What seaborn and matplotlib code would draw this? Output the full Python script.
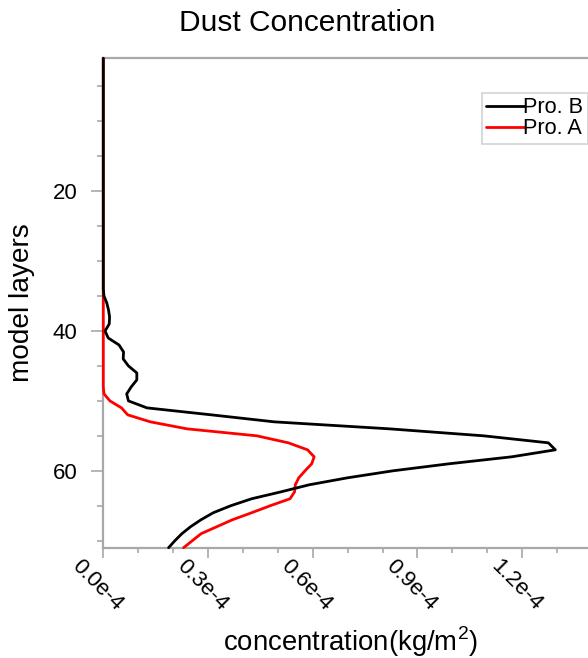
import numpy as np
import pandas as pd
import matplotlib
matplotlib.use("Agg")
import matplotlib.pyplot as plt
import matplotlib.transforms as mtransforms
from matplotlib.ticker import MultipleLocator, FixedLocator, FixedFormatter
from matplotlib.lines import Line2D
import seaborn as sns

# ---- data (concentration in units of 1e-5 kg/m^2) ----
layers_b = [1, 34, 35, 36, 37, 38, 39, 40, 41, 42, 43, 44, 45, 46, 47, 48, 49, 50,
            51, 52, 53, 54, 55, 56, 57, 58, 59, 60, 61, 62, 63, 64, 65, 66, 67, 68,
            69, 70, 71]
pro_b = [0, 0, 0.02, 0.10, 0.15, 0.18, 0.17, 0.05, 0.14, 0.45, 0.58, 0.57, 0.72,
         0.96, 0.96, 0.80, 0.67, 0.72, 1.25, 3.1, 4.9, 8.2, 10.9, 12.75, 12.95,
         11.7, 9.9, 8.3, 7.0, 5.9, 5.1, 4.25, 3.65, 3.15, 2.8, 2.5, 2.25, 2.05, 1.87]

layers_a = [1, 48, 49, 50, 51, 52, 53, 54, 55, 56, 57, 58, 59, 60, 61, 62, 63, 64,
            65, 66, 67, 68, 69, 70, 71]
pro_a = [0, 0, 0.02, 0.19, 0.52, 0.70, 1.35, 2.4, 4.4, 5.3, 5.85, 6.04, 5.97, 5.78,
         5.6, 5.5, 5.48, 5.35, 4.78, 4.25, 3.7, 3.25, 2.8, 2.55, 2.3]

series_names = ["Pro. B", "Pro. A"]
series_colors = {"Pro. B": "black", "Pro. A": "red"}
x_tick_vals = [0.0, 0.3e-4, 0.6e-4, 0.9e-4, 1.2e-4]
x_tick_labels = ["0.0e-4", "0.3e-4", "0.6e-4", "0.9e-4", "1.2e-4"]
y_tick_vals = [20, 40, 60]

df = pd.concat([
    pd.DataFrame({"layer": layers_a, "conc": np.array(pro_a) * 1e-5, "series": "Pro. A"}),
    pd.DataFrame({"layer": layers_b, "conc": np.array(pro_b) * 1e-5, "series": "Pro. B"}),
])

sns.set_theme(style="white")
plt.rcParams["font.family"] = ["Liberation Sans", "DejaVu Sans"]
plt.rcParams["mathtext.fontset"] = "custom"
plt.rcParams["mathtext.rm"] = "Liberation Sans"

W, H = 588, 658
fig = plt.figure(figsize=(W / 100, H / 100), dpi=100)
ax = fig.add_axes([103.3 / W, 1 - 547.7 / H, (592 - 103.3) / W, (547.7 - 58.3) / H])

for name, z in [("Pro. A", 3), ("Pro. B", 4)]:
    sub = df[df["series"] == name]
    sns.lineplot(data=sub, x="conc", y="layer", orient="y", sort=False,
                 color=series_colors[name], linewidth=2.0, ax=ax, legend=False,
                 estimator=None, zorder=z)

ax.set_xlim(0, 1.4e-4)
ax.set_ylim(71, 1)

spine_col = "#a8a8a8"
for s in ["left", "bottom", "top"]:
    ax.spines[s].set_color(spine_col)
    ax.spines[s].set_linewidth(1.6)
ax.spines["right"].set_visible(False)

ax.xaxis.set_major_locator(FixedLocator(x_tick_vals))
ax.xaxis.set_major_formatter(FixedFormatter(x_tick_labels))
ax.xaxis.set_minor_locator(MultipleLocator(0.1e-4))
ax.yaxis.set_major_locator(FixedLocator(y_tick_vals))
ax.yaxis.set_minor_locator(MultipleLocator(5))

ax.tick_params(axis="y", which="major", direction="out", length=8.6, width=1.2,
               color=spine_col, labelsize=16, pad=10, left=True, labelcolor="black")
ax.tick_params(axis="y", which="minor", direction="out", length=4.3, width=1.2,
               color=spine_col, left=True)
ax.tick_params(axis="x", which="major", direction="out", length=7.2, width=1.2,
               color=spine_col, labelsize=16, pad=0, bottom=True, labelcolor="black")
ax.tick_params(axis="x", which="minor", direction="out", length=3.6, width=1.2,
               color=spine_col, bottom=True)

offset = mtransforms.ScaledTranslation(-6 / 100, 2 / 100, fig.dpi_scale_trans)
for lab in ax.get_xticklabels():
    lab.set_rotation(-45)
    lab.set_ha("center")
    lab.set_va("top")
    lab.set_transform(lab.get_transform() + offset)

for ln in ax.lines:
    ln.set_clip_on(False)

ax.set_xlabel("")
ax.set_ylabel("")
fig.text(351 / W, 1 - 642 / H, r"concentration(kg/m$^{2}$)", ha="center", va="center",
         fontsize=19.8, color="black")
fig.text(22.5 / W, 1 - 303 / H, "model layers", ha="center", va="center",
         rotation=90, fontsize=20.2, color="black")
fig.text(307.5 / W, 1 - 23 / H, "Dust Concentration", ha="center", va="center",
         fontsize=21.5, color="black")

handles = [Line2D([], [], color=series_colors[n], linewidth=2.0) for n in series_names]
leg = fig.legend(handles, series_names, loc="upper left",
                 bbox_to_anchor=(482 / W, 1 - 93 / H), frameon=True, fancybox=False,
                 fontsize=15.6, handlelength=1.8, handletextpad=-0.1,
                 borderpad=0.2, borderaxespad=0, labelspacing=0.0)
leg.get_frame().set_edgecolor("#c8c8c8")
leg.get_frame().set_linewidth(1.2)
for t in leg.get_texts():
    t.set_color("black")

fig.savefig("out.png", dpi=100)
